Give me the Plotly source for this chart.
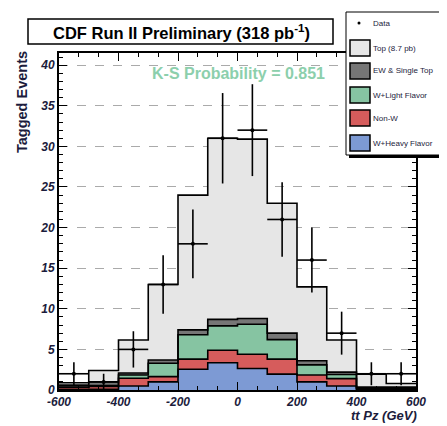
import numpy as np
import plotly.graph_objects as go

# bin layout (GeV)
bin_edges = [-600, -500, -400, -300, -200, -100, 0, 100, 200, 300, 400, 500, 600]
bin_centers = [-550, -450, -350, -250, -150, -50, 50, 150, 250, 350, 450, 550]

# stacked components, bottom to top
w_heavy = [0.05, 0.1, 0.5, 1.0, 2.55, 3.35, 2.65, 1.95, 1.0, 0.5, 0.05, 0.05]
non_w = [0.25, 0.35, 0.95, 0.65, 1.25, 1.55, 1.75, 1.85, 0.85, 0.9, 0.1, 0.1]
w_light = [0.05, 0.1, 0.4, 1.65, 3.0, 3.0, 3.7, 2.4, 1.25, 0.5, 0.05, 0.05]
ew_single = [0.25, 0.45, 0.25, 0.4, 0.6, 0.8, 0.7, 0.8, 0.5, 0.3, 0.15, 0.15]
top = [0.3, 1.4, 4.05, 9.3, 16.6, 22.3, 22.1, 16.0, 9.1, 3.95, 1.6, 0.45]

data_counts = [2, 1, 5, 13, 18, 31, 32, 21, 16, 7, 2, 2]

labels = ["Data", "Top (8.7 pb)", "EW & Single Top", "W+Light Flavor", "Non-W", "W+Heavy Flavor"]
y_ticks = [0, 5, 10, 15, 20, 25, 30, 35, 40]
x_ticks = [-600, -400, -200, 0, 200, 400, 600]

# colours
c_top = '#e6e6e6'
c_ew = '#767676'
c_light = '#86c4a2'
c_nonw = '#d65c5c'
c_heavy = '#7d9ad4'
c_text = '#1c1c3c'

stack = [(w_heavy, c_heavy), (non_w, c_nonw), (w_light, c_light), (ew_single, c_ew), (top, c_top)]

fig = go.Figure()

for vals, col in stack:
    fig.add_trace(go.Bar(x=bin_centers, y=vals, width=100, marker=dict(color=col, line=dict(width=0)),
                         showlegend=False, hoverinfo='skip'))

# step outlines of each cumulative level
cum = np.zeros(len(bin_centers))
for vals, col in stack:
    cum = cum + np.array(vals)
    ys = list(cum) + [cum[-1]]
    fig.add_trace(go.Scatter(x=bin_edges, y=ys, mode='lines', line=dict(color='black', width=1.6, shape='hv'),
                             showlegend=False, hoverinfo='skip'))

# data with poisson errors
fig.add_trace(go.Scatter(x=bin_centers, y=data_counts, mode='markers',
                         marker=dict(color='black', size=4),
                         error_x=dict(type='constant', value=50, color='black', thickness=1.6, width=0),
                         error_y=dict(type='data', array=np.sqrt(data_counts), color='black', thickness=1.6, width=0),
                         showlegend=False, hoverinfo='skip'))

tickfont = dict(family='Liberation Sans', size=12, color=c_text)

# page body adds an 8px offset, so the figure is 8px smaller and margins shifted
fig.update_layout(
    width=439, height=418,
    margin=dict(l=51, r=31, t=45, b=36),
    paper_bgcolor='white', plot_bgcolor='white',
    barmode='stack', bargap=0,
    font=dict(family='Liberation Sans', color=c_text),
)
fig.update_xaxes(range=[-600, 600], tickvals=x_ticks, ticktext=[f'<b><i>{v}</i></b>' for v in x_ticks],
                 ticks='inside', ticklen=8, tickwidth=1.2, tickcolor='black',
                 showline=True, linecolor='black', linewidth=2, mirror='ticks', showgrid=False, zeroline=False,
                 tickfont=tickfont, automargin=False,
                 minor=dict(dtick=200 / 3, tick0=-600, ticks='inside', ticklen=4, tickcolor='black', showgrid=False))
fig.update_yaxes(range=[0, 41.5], tickvals=y_ticks, ticktext=[f'<b><i>{v}</i></b>' for v in y_ticks],
                 ticks='inside', ticklen=8, tickwidth=1.2, tickcolor='black',
                 showline=True, linecolor='black', linewidth=2, mirror='ticks', zeroline=False,
                 showgrid=True, gridcolor='#aaaaaa', griddash='dash', gridwidth=1,
                 tickfont=tickfont, automargin=False,
                 minor=dict(dtick=1, ticks='inside', ticklen=4, tickcolor='black', showgrid=False))


# helpers: reference-picture pixels to paper coords
def px(x):
    return (x - 59) / 357.0


def py(y):
    return (390 - y) / 337.0


# axis titles
fig.add_annotation(text='<b>Tagged Events</b>', xref='paper', yref='paper', x=px(22), y=py(49),
                   xanchor='center', yanchor='top', textangle=-90, showarrow=False,
                   font=dict(family='Liberation Sans', size=14.5, color=c_text))
fig.add_annotation(text='<b><i>tt Pz (GeV)</i></b>', xref='paper', yref='paper', x=px(419), y=py(406),
                   xanchor='right', yanchor='top', showarrow=False,
                   font=dict(family='Liberation Sans', size=13, color=c_text))

# title box
fig.add_shape(type='rect', xref='paper', yref='paper', x0=px(28), x1=px(333), y0=py(44), y1=py(19),
              line=dict(color='black', width=1.5), fillcolor='white', layer='above')
fig.add_annotation(text='<b>CDF Run II Preliminary (318 pb<sup>-1</sup>)</b>', xref='paper', yref='paper',
                   x=px(181), y=py(31.5), xanchor='center', yanchor='middle', showarrow=False,
                   font=dict(family='Liberation Sans', size=16.5, color='black'))

# K-S text
fig.add_annotation(text='<b>K-S Probability = 0.851</b>', xref='paper', yref='paper', x=px(238), y=py(73),
                   xanchor='center', yanchor='middle', showarrow=False,
                   font=dict(family='Liberation Sans', size=16, color='#8ccfac'))

# legend box (drawn by hand to match the ROOT legend layout)
fig.add_shape(type='rect', xref='paper', yref='paper', x0=px(349), x1=px(450), y0=py(158), y1=py(15),
              line=dict(width=0), fillcolor='black', layer='above')
fig.add_shape(type='rect', xref='paper', yref='paper', x0=px(346), x1=px(447), y0=py(155), y1=py(12),
              line=dict(color='black', width=1), fillcolor='white', layer='above')

swatch_cols = [None, c_top, c_ew, c_light, c_nonw, c_heavy]
row_y = [23, 48, 71, 95, 118, 143]
for lab, col, yy in zip(labels, swatch_cols, row_y):
    if col is None:
        fig.add_shape(type='circle', xref='paper', yref='paper', x0=px(357.5), x1=px(360.5), y0=py(yy + 1.5),
                      y1=py(yy - 1.5), fillcolor='black', line=dict(width=0), layer='above')
    else:
        fig.add_shape(type='rect', xref='paper', yref='paper', x0=px(350), x1=px(370), y0=py(yy + 8),
                      y1=py(yy - 8), fillcolor=col, line=dict(color='black', width=1.5), layer='above')
    fig.add_annotation(text=lab, xref='paper', yref='paper', x=px(371), y=py(yy), xanchor='left',
                       yanchor='middle', showarrow=False,
                       font=dict(family='Liberation Sans Narrow, Liberation Sans', size=8, color=c_text))

fig.write_html("out.html")
